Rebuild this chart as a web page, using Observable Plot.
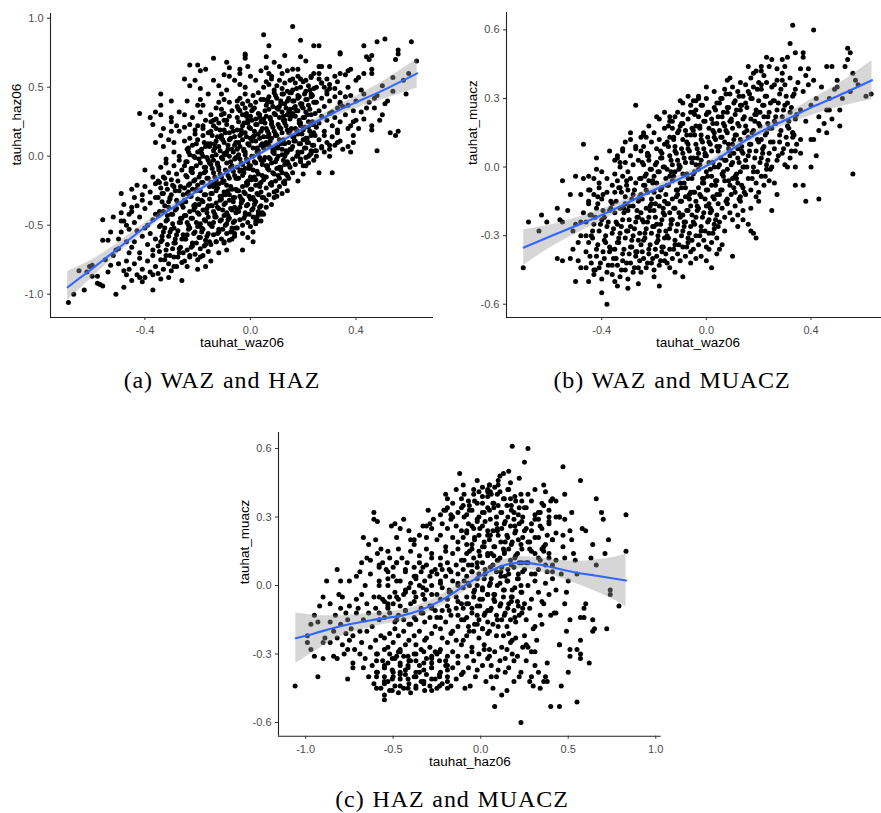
<!DOCTYPE html>
<html><head><meta charset="utf-8">
<script src="https://cdn.jsdelivr.net/npm/d3@7"></script>
<script src="https://cdn.jsdelivr.net/npm/@observablehq/plot@0.6"></script>
<style>
html,body{margin:0;padding:0;background:#fff;overflow:hidden;}
#page{position:relative;width:881px;height:813px;overflow:hidden;background:#fff;}
</style></head><body><div id="page"></div>
<script>
// ---------- Panel (a): tauhat_waz06 (x) vs tauhat_haz06 (y) ----------
const waz_haz_points = [
[-.69,-1.06],[-.67,-1.0],[-.65,-.83],[-.63,-.97],[-.62,-.84],[-.61,-.8],[-.6,-.87],[-.6,-.79],[-.58,-.92],[-.58,-.87],[-.57,-.93],[-.56,-.46],[-.56,-.61],[-.56,-.94],
[-.54,-.84],[-.55,-.75],[-.53,-.79],[-.54,-.61],[-.51,-.68],[-.5,-.67],[-.52,-.44],[-.49,-.27],[-.48,-.35],[-.45,-.37],[-.46,-.42],[-.49,-.47],[-.48,-.47],[-.48,-.83],[-.47,-.86],[-.46,-.82],[-.47,-.76],[-.51,-1.0],[-.48,-.95],[-.47,-.5],[-.53,-.55],[-.52,-.72],[-.5,-.6],[-.49,-.55],[-.47,-.62],[-.46,-.7],[-.46,-.53],[-.5,-.78],[-.49,-.41],
[-.43,-.21],[-.44,-.3],[-.4,-.1],[-.37,-.15],[-.36,-.2],[-.42,.31],[-.38,.28],[-.37,.23],[-.36,.32],[-.36,.1],[-.37,-.97],[-.41,-.91],[-.42,-.88],[-.37,-.86],
[-.45,-.90],[-.40,-.88],[-.43,-.86],[-.38,-.84],[-.41,-.82],[-.36,-.80],[-.44,-.78],[-.39,-.76],[-.42,-.74],[-.37,-.72],
[-.42,-.70],[-.37,-.68],[-.45,-.66],[-.39,-.64],[-.44,-.62],[-.36,-.60],[-.41,-.58],[-.38,-.56],[-.43,-.54],[-.40,-.52],
[-.39,-.50],[-.44,-.48],[-.37,-.46],[-.42,-.44],[-.36,-.42],[-.45,-.40],[-.40,-.38],[-.43,-.36],[-.38,-.34],[-.41,-.32],
[-.36,-.30],[-.41,-.28],[-.38,-.26],[-.45,-.24],[-.40,-.22],
[-.34,.45],[-.3,.4],[-.34,.37],[-.34,.3],[-.3,.28],[-.3,.25],[-.28,.22],[-.3,.18],[-.34,.15],[-.33,.07],[-.34,-.89],[-.31,-.88],[-.29,-.8],[-.33,.2],[-.31,.12],[-.27,.32],[-.27,.18],[-.29,.1],[-.26,-.9],
[-.35,-.85],[-.30,-.83],[-.33,-.82],[-.28,-.80],[-.31,-.78],[-.26,-.77],[-.34,-.75],[-.29,-.73],[-.32,-.72],[-.27,-.70],
[-.32,-.68],[-.27,-.67],[-.35,-.65],[-.29,-.63],[-.34,-.62],[-.26,-.60],[-.31,-.58],[-.28,-.57],[-.33,-.55],[-.30,-.53],
[-.29,-.52],[-.34,-.50],[-.27,-.48],[-.32,-.47],[-.26,-.45],[-.35,-.43],[-.30,-.42],[-.33,-.40],[-.28,-.38],[-.31,-.37],
[-.26,-.35],[-.31,-.33],[-.28,-.32],[-.35,-.30],[-.30,-.28],[-.33,-.27],[-.27,-.25],[-.34,-.23],[-.29,-.22],[-.32,-.20],
[-.35,-.18],[-.30,-.17],[-.33,-.15],[-.28,-.13],[-.31,-.12],[-.26,-.10],[-.34,-.08],[-.29,-.07],[-.32,-.05],[-.27,-.03],
[-.32,-.02],[-.27,.00],[-.29,.03],
[-.25,.56],[-.23,.66],[-.2,.66],[-.19,.62],[-.17,.63],[-.23,.51],[-.19,.49],[-.19,.41],[-.2,.37],[-.18,.37],[-.23,.23],[-.18,.22],[-.23,-.72],[-.19,-.73],[-.2,-.82],[-.17,-.8],[-.25,.3],[-.24,.4],[-.22,.28],[-.21,.55],[-.19,.32],[-.17,.26],[-.16,.45],[-.24,-.8],
[-.25,-.76],[-.20,-.75],[-.23,-.73],[-.18,-.72],[-.21,-.71],[-.16,-.69],[-.24,-.68],[-.19,-.67],[-.22,-.65],[-.17,-.64],
[-.22,-.63],[-.17,-.61],[-.25,-.60],[-.19,-.59],[-.24,-.57],[-.16,-.56],[-.21,-.55],[-.18,-.53],[-.23,-.52],[-.20,-.51],
[-.19,-.49],[-.24,-.48],[-.17,-.47],[-.22,-.45],[-.16,-.44],[-.25,-.43],[-.20,-.41],[-.23,-.40],[-.18,-.39],[-.21,-.37],
[-.16,-.36],[-.21,-.35],[-.18,-.33],[-.25,-.32],[-.20,-.31],[-.23,-.29],[-.17,-.28],[-.24,-.27],[-.19,-.25],[-.22,-.24],
[-.25,-.23],[-.20,-.21],[-.23,-.20],[-.18,-.19],[-.21,-.17],[-.16,-.16],[-.24,-.15],[-.19,-.13],[-.22,-.12],[-.17,-.11],
[-.22,-.09],[-.17,-.08],[-.25,-.07],[-.19,-.05],[-.24,-.04],[-.16,-.03],[-.21,-.01],[-.18,.00],[-.23,.01],[-.20,.03],
[-.19,.04],[-.24,.05],[-.17,.07],[-.22,.08],[-.16,.09],[-.25,.11],[-.20,.12],[-.23,.13],[-.18,.15],[-.21,.16],
[-.16,.17],[-.21,.19],[-.18,.20],[-.25,.21],[-.20,.22],
[-.14,.71],[-.09,.68],[-.1,.59],[-.08,.58],[-.14,.55],[-.12,.51],[-.11,.45],[-.12,.39],[-.1,.41],[-.08,.39],[-.05,.4],[-.15,.3],[-.1,.31],[-.14,.26],[-.09,.26],[-.15,-.76],[-.13,-.62],[-.1,-.62],[-.07,-.6],[-.06,-.56],[-.08,.64],[-.06,.55],[-.13,.35],[-.11,.34],[-.09,.48],[-.07,.33],[-.12,-.7],[-.09,-.68],
[-.15,-.64],[-.10,-.63],[-.13,-.62],[-.08,-.61],[-.11,-.60],[-.06,-.58],[-.14,-.57],[-.09,-.56],[-.12,-.55],[-.07,-.54],
[-.12,-.53],[-.07,-.52],[-.15,-.50],[-.09,-.49],[-.14,-.48],[-.06,-.47],[-.11,-.46],[-.08,-.45],[-.13,-.44],[-.10,-.43],
[-.09,-.41],[-.14,-.40],[-.07,-.39],[-.12,-.38],[-.06,-.37],[-.15,-.36],[-.10,-.35],[-.13,-.34],[-.08,-.32],[-.11,-.31],
[-.06,-.30],[-.11,-.29],[-.08,-.28],[-.15,-.27],[-.10,-.26],[-.13,-.25],[-.07,-.24],[-.14,-.22],[-.09,-.21],[-.12,-.20],
[-.15,-.19],[-.10,-.18],[-.13,-.17],[-.08,-.16],[-.11,-.15],[-.06,-.14],[-.14,-.12],[-.09,-.11],[-.12,-.10],[-.07,-.09],
[-.12,-.08],[-.07,-.07],[-.15,-.06],[-.09,-.05],[-.14,-.03],[-.06,-.02],[-.11,-.01],[-.08,.00],[-.13,.01],[-.10,.02],
[-.09,.03],[-.14,.04],[-.07,.05],[-.12,.07],[-.06,.08],[-.15,.09],[-.10,.10],[-.13,.11],[-.08,.12],[-.11,.13],
[-.06,.14],[-.11,.15],[-.08,.17],[-.15,.18],[-.10,.19],[-.13,.20],[-.07,.21],[-.14,.22],[-.09,.23],[-.12,.24],
[-.15,.25],[-.10,.26],[-.13,.27],[-.08,.29],[-.11,.30],
[-.04,.6],[-.04,.63],[-.02,.73],[-.02,.74],[-.02,.71],[-.01,.65],[-.03,-.68],[-.03,-.56],[-.01,-.59],[.01,-.55],[.02,-.47],[-.04,.52],[-.02,.5],[.0,.58],[.02,.55],[.04,.62],[.01,-.62],[.03,-.47],[.04,-.42],
[-.05,-.52],[.00,-.51],[-.03,-.50],[.02,-.49],[-.01,-.48],[.04,-.47],[-.04,-.46],[.01,-.44],[-.02,-.43],[.03,-.42],
[-.02,-.41],[.03,-.40],[-.05,-.39],[.01,-.38],[-.04,-.37],[.04,-.36],[-.01,-.35],[.02,-.33],[-.03,-.32],[.00,-.31],
[.01,-.30],[-.04,-.29],[.03,-.28],[-.02,-.27],[.04,-.26],[-.05,-.25],[.00,-.24],[-.03,-.22],[.02,-.21],[-.01,-.20],
[.04,-.19],[-.01,-.18],[.02,-.17],[-.05,-.16],[.00,-.15],[-.03,-.14],[.03,-.13],[-.04,-.11],[.01,-.10],[-.02,-.09],
[-.05,-.08],[.00,-.07],[-.03,-.06],[.02,-.05],[-.01,-.04],[.04,-.03],[-.04,-.02],[.01,.00],[-.02,.01],[.03,.02],
[-.02,.03],[.03,.04],[-.05,.05],[.01,.06],[-.04,.07],[.04,.08],[-.01,.09],[.02,.11],[-.03,.12],[.00,.13],
[.01,.14],[-.04,.15],[.03,.16],[-.02,.17],[.04,.18],[-.05,.19],[.00,.20],[-.03,.22],[.02,.23],[-.01,.24],
[.04,.25],[-.01,.26],[.02,.27],[-.05,.28],[.00,.29],[-.03,.30],[.03,.31],[-.04,.33],[.01,.34],[-.02,.35],
[-.05,.36],[.00,.37],[-.03,.38],[.02,.39],[-.01,.40],[.04,.41],[-.04,.42],[.01,.44],[-.02,.45],[.03,.46],
[.05,.88],[.06,.72],[.06,.64],[.07,.8],[.07,.6],[.08,.58],[.11,.65],[.13,.73],[.15,.55],[.13,.0],[.09,-.3],[.05,-.42],[.06,-.37],[.06,-.32],[.08,-.35],[.1,-.25],[.12,.6],[.14,.62],[.09,.68],
[.05,-.30],[.10,-.29],[.07,-.28],[.12,-.27],[.09,-.26],[.14,-.25],[.06,-.23],[.11,-.22],[.08,-.21],[.13,-.20],
[.08,-.19],[.13,-.18],[.05,-.17],[.11,-.16],[.06,-.15],[.14,-.14],[.09,-.13],[.12,-.12],[.07,-.10],[.10,-.09],
[.11,-.08],[.06,-.07],[.13,-.06],[.08,-.05],[.14,-.04],[.05,-.03],[.10,-.02],[.07,-.01],[.12,.01],[.09,.02],
[.14,.03],[.09,.04],[.12,.05],[.05,.06],[.10,.07],[.07,.08],[.13,.09],[.06,.10],[.11,.12],[.08,.13],
[.05,.14],[.10,.15],[.07,.16],[.12,.17],[.09,.18],[.14,.19],[.06,.20],[.11,.21],[.08,.23],[.13,.24],
[.08,.25],[.13,.26],[.05,.27],[.11,.28],[.06,.29],[.14,.30],[.09,.31],[.12,.32],[.07,.34],[.10,.35],
[.11,.36],[.06,.37],[.13,.38],[.08,.39],[.14,.40],[.05,.41],[.10,.42],[.07,.43],[.12,.45],[.09,.46],
[.14,.47],[.09,.48],[.12,.49],[.05,.50],[.10,.51],[.07,.52],[.13,.53],[.06,.54],[.11,.55],[.08,.56],
[.16,.94],[.19,.84],[.24,.8],[.19,.72],[.21,.69],[.16,.63],[.18,.63],[.19,.56],[.23,.58],[.19,-.02],[.22,.0],[.18,-.18],[.21,-.07],[.25,.0],[.16,-.12],[.2,-.13],
[.15,-.08],[.20,-.07],[.17,-.06],[.22,-.05],[.19,-.04],[.24,-.03],[.16,-.02],[.21,-.01],[.18,.01],[.23,.02],
[.18,.03],[.23,.04],[.15,.05],[.21,.06],[.16,.07],[.24,.08],[.19,.09],[.22,.10],[.17,.11],[.20,.12],
[.21,.13],[.16,.14],[.23,.15],[.18,.16],[.24,.17],[.15,.18],[.20,.19],[.17,.20],[.22,.21],[.19,.22],
[.24,.23],[.19,.24],[.22,.25],[.15,.27],[.20,.28],[.17,.29],[.23,.30],[.16,.31],[.21,.32],[.18,.33],
[.15,.34],[.20,.35],[.17,.36],[.22,.37],[.19,.38],[.24,.39],[.16,.40],[.21,.41],[.18,.42],[.23,.43],
[.18,.44],[.23,.45],[.15,.46],[.21,.47],[.16,.48],[.24,.49],[.19,.50],[.22,.51],[.17,.53],[.20,.54],
[.21,.55],[.16,.56],[.23,.57],[.18,.58],[.24,.60],
[.26,.8],[.26,.65],[.27,.65],[.3,.65],[.34,.75],[.34,.74],[.34,.6],[.28,.5],[.27,.53],[.3,.49],[.34,.39],[.26,-.12],[.31,-.12],[.33,.1],[.3,.08],[.28,.03],[.3,.0],[.27,.06],[.35,.05],[.26,.6],[.29,.56],[.32,.58],
[.25,.04],[.30,.05],[.27,.07],[.32,.08],[.29,.10],[.34,.11],[.26,.12],[.31,.14],[.28,.15],[.33,.17],
[.28,.18],[.33,.19],[.25,.21],[.31,.22],[.26,.24],[.34,.25],[.29,.26],[.32,.28],[.27,.29],[.30,.31],
[.31,.32],[.26,.33],[.33,.35],[.28,.36],[.34,.38],[.25,.39],[.30,.40],[.27,.42],[.32,.43],[.29,.45],
[.34,.46],[.29,.47],[.32,.49],[.25,.50],[.30,.52],[.27,.53],[.33,.54],[.26,.56],
[.38,.63],[.37,.62],[.36,.59],[.41,.57],[.4,.55],[.43,.6],[.44,.72],[.43,.8],[.45,.7],[.43,.45],[.45,.39],[.35,.36],[.37,.37],[.38,.44],[.42,.32],[.4,.26],[.39,.25],[.43,.27],[.38,.22],[.39,.15],[.39,.1],[.38,.03],[.37,.07],[.37,.2],[.36,.3],[.37,.5],[.4,.4],[.42,.48],[.39,.33],[.44,.35],[.41,.2],[.36,.43],
[.46,.22],[.46,.19],[.46,.63],[.46,.6],[.48,.83],[.51,.85],[.48,.44],[.47,.42],[.5,.51],[.54,.47],[.54,.57],[.51,.38],[.5,.3],[.49,.26],[.53,.17],[.55,.15],[.56,.18],[.48,.04],[.56,.77],[.56,.74],[.55,.7],[.61,.83],[.63,.69],[.46,.73],[.47,.35],[.52,.4],[.58,.55],[.6,.6],[.59,.45]
];
const waz_haz_dense = [
[-.325,-.75],[-.275,-.73],[-.305,-.72],[-.255,-.70],[-.345,-.69],[-.295,-.67],[-.265,-.66],[-.315,-.64],[-.285,-.63],[-.335,-.61],
[-.285,-.60],[-.335,-.58],[-.255,-.57],[-.305,-.55],[-.275,-.54],[-.325,-.52],[-.345,-.51],[-.295,-.49],[-.265,-.48],[-.315,-.46],
[-.265,-.45],[-.315,-.43],[-.295,-.42],[-.345,-.40],[-.285,-.39],[-.255,-.37],[-.325,-.36],[-.275,-.34],[-.335,-.33],[-.305,-.31],
[-.305,-.30],[-.255,-.28],[-.335,-.27],[-.285,-.25],[-.315,-.24],[-.265,-.22],[-.295,-.21],[-.345,-.19],[-.275,-.18],[-.325,-.16],
[-.225,-.66],[-.175,-.65],[-.205,-.63],[-.155,-.62],[-.245,-.60],[-.195,-.59],[-.165,-.58],[-.215,-.56],[-.185,-.55],[-.235,-.53],
[-.185,-.52],[-.235,-.50],[-.155,-.49],[-.205,-.48],[-.175,-.46],[-.225,-.45],[-.245,-.43],[-.195,-.42],[-.165,-.41],[-.215,-.39],
[-.165,-.38],[-.215,-.36],[-.195,-.35],[-.245,-.33],[-.185,-.32],[-.155,-.31],[-.225,-.29],[-.175,-.28],[-.235,-.26],[-.205,-.25],
[-.205,-.24],[-.155,-.22],[-.235,-.21],[-.185,-.19],[-.215,-.18],[-.165,-.16],[-.195,-.15],[-.245,-.14],[-.175,-.12],[-.225,-.11],
[-.225,-.09],[-.175,-.08],[-.205,-.07],[-.155,-.05],[-.245,-.04],[-.195,-.02],[-.165,-.01],[-.215,.00],[-.185,.02],[-.235,.03],
[-.185,.05],[-.235,.06],[-.155,.07],[-.205,.09],[-.175,.10],
[-.125,-.56],[-.075,-.55],[-.105,-.53],[-.055,-.52],[-.145,-.51],[-.095,-.50],[-.065,-.48],[-.115,-.47],[-.085,-.46],[-.135,-.44],
[-.085,-.43],[-.135,-.42],[-.055,-.41],[-.105,-.39],[-.075,-.38],[-.125,-.37],[-.145,-.36],[-.095,-.34],[-.065,-.33],[-.115,-.32],
[-.065,-.30],[-.115,-.29],[-.095,-.28],[-.145,-.27],[-.085,-.25],[-.055,-.24],[-.125,-.23],[-.075,-.22],[-.135,-.20],[-.105,-.19],
[-.105,-.18],[-.055,-.16],[-.135,-.15],[-.085,-.14],[-.115,-.13],[-.065,-.11],[-.095,-.10],[-.145,-.09],[-.075,-.08],[-.125,-.06],
[-.125,-.05],[-.075,-.04],[-.105,-.02],[-.055,-.01],[-.145,.00],[-.095,.01],[-.065,.03],[-.115,.04],[-.085,.05],[-.135,.06],
[-.085,.08],[-.135,.09],[-.055,.10],[-.105,.12],[-.075,.13],[-.125,.14],[-.145,.15],[-.095,.17],[-.065,.18],[-.115,.19],
[-.025,-.45],[.025,-.44],[-.005,-.42],[.045,-.41],[-.045,-.40],[.005,-.39],[.035,-.37],[-.015,-.36],[.015,-.35],[-.035,-.34],
[.015,-.32],[-.035,-.31],[.045,-.30],[-.005,-.29],[.025,-.27],[-.025,-.26],[-.045,-.25],[.005,-.24],[.035,-.22],[-.015,-.21],
[.035,-.20],[-.015,-.19],[.005,-.17],[-.045,-.16],[.015,-.15],[.045,-.14],[-.025,-.12],[.025,-.11],[-.035,-.10],[-.005,-.09],
[-.005,-.07],[.045,-.06],[-.035,-.05],[.015,-.04],[-.015,-.02],[.035,-.01],[.005,.00],[-.045,.01],[.025,.03],[-.025,.04],
[-.025,.05],[.025,.06],[-.005,.08],[.045,.09],[-.045,.10],[.005,.11],[.035,.13],[-.015,.14],[.015,.15],[-.035,.16],
[.015,.18],[-.035,.19],[.045,.20],[-.005,.21],[.025,.23],[-.025,.24],[-.045,.25],[.005,.26],[.035,.28],[-.015,.29],
[.035,.30],[-.015,.31],[.005,.33],[-.045,.34],[.015,.35],
[.075,-.20],[.125,-.19],[.095,-.18],[.145,-.16],[.055,-.15],[.105,-.14],[.135,-.13],[.085,-.12],[.115,-.10],[.065,-.09],
[.115,-.08],[.065,-.07],[.145,-.06],[.095,-.04],[.125,-.03],[.075,-.02],[.055,-.01],[.105,.00],[.135,.02],[.085,.03],
[.135,.04],[.085,.05],[.105,.06],[.055,.08],[.115,.09],[.145,.10],[.075,.11],[.125,.12],[.065,.14],[.095,.15],
[.095,.16],[.145,.17],[.065,.18],[.115,.20],[.085,.21],[.135,.22],[.105,.23],[.055,.24],[.125,.26],[.075,.27],
[.075,.28],[.125,.29],[.095,.30],[.145,.32],[.055,.33],[.105,.34],[.135,.35],[.085,.36],[.115,.38],[.065,.39],
[.115,.40],[.065,.41],[.145,.42],[.095,.44],[.125,.45],
[.175,.00],[.225,.01],[.195,.03],[.245,.04],[.155,.05],[.205,.06],[.235,.08],[.185,.09],[.215,.10],[.165,.11],
[.215,.13],[.165,.14],[.245,.15],[.195,.16],[.225,.18],[.175,.19],[.155,.20],[.205,.21],[.235,.23],[.185,.24],
[.235,.25],[.185,.26],[.205,.28],[.155,.29],[.215,.30],[.245,.31],[.175,.33],[.225,.34],[.165,.35],[.195,.36],
[.195,.38],[.245,.39],[.165,.40],[.215,.41],[.185,.43],[.235,.44],[.205,.45],[.155,.46],[.225,.48],[.175,.49]
];
const loessA_x  = [-.693,-.6,-.5,-.4,-.3,-.2,-.1,0,.1,.2,.3,.4,.5,.632];
const loessA_y  = [-.95,-.815,-.665,-.515,-.38,-.25,-.13,-.02,.09,.2,.3,.39,.475,.6];
const loessA_lo = [-1.045,-.88,-.705,-.545,-.405,-.27,-.15,-.04,.07,.178,.27,.345,.41,.495];
const loessA_hi = [-.835,-.75,-.625,-.485,-.355,-.23,-.11,0,.11,.222,.33,.435,.54,.705];

// ---------- Panel (b): tauhat_waz06 (x) vs tauhat_muacz (y) ----------
const waz_muacz_points = [
[-.70,-.44],[-.68,-.24],[-.63,-.21],[-.64,-.28],[-.61,-.24],[-.57,-.18],[-.56,-.23],[-.55,-.24],[-.57,-.40],[-.55,-.41],
[-.55,-.06],[-.53,-.19],[-.52,-.40],[-.50,-.04],[-.52,-.12],[-.48,-.12],[-.50,-.25],[-.48,-.24],[-.50,-.50],[-.45,-.16],[-.48,-.44],[-.46,-.44],[-.47,.10],[-.46,-.30],[-.49,-.33],[-.47,-.20],[-.46,-.37],[-.47,-.05],[-.51,-.28],[-.51,-.36],[-.49,-.41],[-.46,-.24],[-.45,-.10],[-.48,-.30],
[-.43,-.05],[-.42,-.01],[-.43,-.45],[-.36,-.47],[-.38,-.60],[-.37,.07],[-.35,.03],[-.40,-.55],[-.42,.04],
[-.45,-.50],[-.40,-.49],[-.43,-.47],[-.38,-.46],[-.41,-.44],[-.36,-.43],[-.44,-.42],[-.39,-.40],[-.42,-.39],[-.37,-.37],
[-.42,-.36],[-.37,-.35],[-.45,-.33],[-.39,-.32],[-.44,-.30],[-.36,-.29],[-.41,-.28],[-.38,-.26],[-.43,-.25],[-.40,-.23],
[-.39,-.22],[-.44,-.21],[-.37,-.19],[-.42,-.18],[-.36,-.16],[-.45,-.15],[-.40,-.14],[-.43,-.12],[-.38,-.11],[-.41,-.09],
[-.36,-.08],[-.41,-.07],[-.38,-.05],[-.45,-.04],[-.40,-.02],
[-.34,.05],[-.32,.08],[-.33,.02],[-.29,.15],[-.27,.27],[-.34,-.52],[-.30,-.53],[-.26,-.51],[-.31,.11],[-.29,.12],[-.27,.09],[-.25,.13],
[-.35,-.50],[-.30,-.49],[-.33,-.48],[-.28,-.46],[-.31,-.45],[-.26,-.44],[-.34,-.43],[-.29,-.42],[-.32,-.41],[-.27,-.39],
[-.32,-.38],[-.27,-.37],[-.35,-.36],[-.29,-.35],[-.34,-.33],[-.26,-.32],[-.31,-.31],[-.28,-.30],[-.33,-.29],[-.30,-.28],
[-.29,-.26],[-.34,-.25],[-.27,-.24],[-.32,-.23],[-.26,-.22],[-.35,-.20],[-.30,-.19],[-.33,-.18],[-.28,-.17],[-.31,-.16],
[-.26,-.15],[-.31,-.13],[-.28,-.12],[-.35,-.11],[-.30,-.10],[-.33,-.09],[-.27,-.07],[-.34,-.06],[-.29,-.05],[-.32,-.04],
[-.35,-.03],[-.30,-.02],[-.33,.00],[-.28,.01],[-.31,.02],[-.26,.03],[-.34,.04],[-.29,.05],[-.32,.07],[-.27,.08],
[-.24,.15],[-.24,.14],[-.19,.22],[-.18,.21],[-.16,.24],[-.18,-.52],[-.20,-.48],[-.22,.18],[-.16,.17],
[-.25,-.46],[-.20,-.45],[-.23,-.44],[-.18,-.43],[-.21,-.42],[-.16,-.41],[-.24,-.40],[-.19,-.39],[-.22,-.38],[-.17,-.37],
[-.22,-.36],[-.17,-.35],[-.25,-.34],[-.19,-.33],[-.24,-.32],[-.16,-.31],[-.21,-.29],[-.18,-.28],[-.23,-.27],[-.20,-.26],
[-.19,-.25],[-.24,-.24],[-.17,-.23],[-.22,-.22],[-.16,-.21],[-.25,-.20],[-.20,-.19],[-.23,-.18],[-.18,-.17],[-.21,-.16],
[-.16,-.15],[-.21,-.14],[-.18,-.13],[-.25,-.12],[-.20,-.11],[-.23,-.10],[-.17,-.09],[-.24,-.08],[-.19,-.07],[-.22,-.06],
[-.25,-.05],[-.20,-.04],[-.23,-.03],[-.18,-.02],[-.21,-.01],[-.16,.00],[-.24,.01],[-.19,.02],[-.22,.03],[-.17,.04],
[-.22,.05],[-.17,.06],[-.25,.07],[-.19,.08],[-.24,.09],[-.16,.10],[-.21,.11],[-.18,.12],[-.23,.13],[-.20,.15],
[-.14,.22],[-.13,.20],[-.10,.29],[-.09,.28],[-.07,.31],[-.06,.27],[-.11,.24],[-.09,.23],[-.14,-.44],[-.09,-.48],[-.12,-.46],[-.06,-.42],
[-.15,-.42],[-.10,-.41],[-.13,-.40],[-.08,-.39],[-.11,-.38],[-.06,-.37],[-.14,-.36],[-.09,-.35],[-.12,-.34],[-.07,-.33],
[-.12,-.32],[-.07,-.31],[-.15,-.30],[-.09,-.28],[-.14,-.27],[-.06,-.26],[-.11,-.25],[-.08,-.24],[-.13,-.23],[-.10,-.22],
[-.09,-.21],[-.14,-.20],[-.07,-.19],[-.12,-.18],[-.06,-.17],[-.15,-.16],[-.10,-.15],[-.13,-.14],[-.08,-.13],[-.11,-.12],
[-.06,-.11],[-.11,-.10],[-.08,-.09],[-.15,-.08],[-.10,-.07],[-.13,-.06],[-.07,-.05],[-.14,-.04],[-.09,-.03],[-.12,-.02],
[-.15,-.01],[-.10,.00],[-.13,.01],[-.08,.02],[-.11,.03],[-.06,.04],[-.14,.05],[-.09,.06],[-.12,.07],[-.07,.08],
[-.12,.09],[-.07,.10],[-.15,.11],[-.09,.12],[-.14,.13],[-.06,.14],[-.11,.15],[-.08,.16],[-.13,.17],[-.10,.18],
[-.09,.19],[-.14,.20],[-.07,.21],[-.12,.22],[-.06,.24],
[-.05,.24],[-.04,.29],[.00,.35],[.02,-.44],[.00,-.41],[.01,-.36],[-.03,.30],[.03,.33],[-.02,-.39],[.04,-.38],[-.04,-.40],
[-.05,-.36],[.00,-.35],[-.03,-.34],[.02,-.33],[-.01,-.32],[.04,-.31],[-.04,-.30],[.01,-.29],[-.02,-.28],[.03,-.27],
[-.02,-.26],[.03,-.25],[-.05,-.24],[.01,-.23],[-.04,-.22],[.04,-.21],[-.01,-.20],[.02,-.19],[-.03,-.18],[.00,-.17],
[.01,-.16],[-.04,-.15],[.03,-.14],[-.02,-.13],[.04,-.12],[-.05,-.11],[.00,-.10],[-.03,-.09],[.02,-.08],[-.01,-.07],
[.04,-.06],[-.01,-.05],[.02,-.04],[-.05,-.03],[.00,-.02],[-.03,-.01],[.03,.00],[-.04,.01],[.01,.02],[-.02,.03],
[-.05,.04],[.00,.05],[-.03,.06],[.02,.07],[-.01,.08],[.04,.09],[-.04,.10],[.01,.11],[-.02,.12],[.03,.13],
[-.02,.14],[.03,.15],[-.05,.16],[.01,.17],[-.04,.18],[.04,.19],[-.01,.20],[.02,.21],[-.03,.22],[.00,.23],
[.01,.24],[-.04,.25],[.03,.26],[-.02,.27],[.04,.28],[-.05,.29],[.00,.30],[-.03,.31],
[.09,.39],[.05,-.36],[.06,-.34],[.10,-.39],[.14,-.23],[.07,-.28],[.12,-.26],[.08,.38],[.13,.37],
[.05,-.24],[.10,-.23],[.07,-.22],[.12,-.21],[.09,-.20],[.14,-.19],[.06,-.18],[.11,-.17],[.08,-.16],[.13,-.15],
[.08,-.14],[.13,-.13],[.05,-.12],[.11,-.11],[.06,-.10],[.14,-.09],[.09,-.08],[.12,-.07],[.07,-.06],[.10,-.05],
[.11,-.04],[.06,-.03],[.13,-.02],[.08,-.01],[.14,.00],[.05,.01],[.10,.02],[.07,.03],[.12,.04],[.09,.05],
[.14,.06],[.09,.07],[.12,.08],[.05,.09],[.10,.10],[.07,.11],[.13,.12],[.06,.13],[.11,.14],[.08,.15],
[.05,.16],[.10,.17],[.07,.18],[.12,.19],[.09,.20],[.14,.21],[.06,.22],[.11,.23],[.08,.24],[.13,.25],
[.08,.26],[.13,.27],[.05,.28],[.11,.29],[.06,.30],[.14,.31],[.09,.32],[.12,.33],[.07,.34],[.10,.35],
[.16,-.25],[.17,-.28],[.18,-.29],[.19,-.31],[.17,-.18],[.19,-.13],[.20,-.15],[.25,-.19],[.23,.48],[.18,.41],[.21,.44],[.21,.42],[.21,.36],[.23,.37],[.16,.44],[.24,.44],
[.15,-.12],[.20,-.11],[.17,-.10],[.22,-.08],[.19,-.07],[.24,-.06],[.16,-.05],[.21,-.04],[.18,-.02],[.23,-.01],
[.18,.00],[.23,.01],[.15,.03],[.21,.04],[.16,.05],[.24,.06],[.19,.07],[.22,.09],[.17,.10],[.20,.11],
[.21,.12],[.16,.13],[.23,.15],[.18,.16],[.24,.17],[.15,.18],[.20,.19],[.17,.21],[.22,.22],[.19,.23],
[.24,.24],[.19,.25],[.22,.27],[.15,.28],[.20,.29],[.17,.30],[.23,.31],[.16,.33],[.21,.34],[.18,.35],
[.15,.36],[.20,.37],[.17,.39],[.22,.40],[.19,.42],
[.25,.47],[.29,.47],[.31,.48],[.32,.54],[.33,.62],[.34,.50],[.26,.36],[.29,.38],[.35,.37],[.26,-.07],[.27,-.12],[.34,-.08],[.31,.00],[.34,.00],[.33,.15],[.27,.43],[.30,.44],
[.25,.00],[.30,.01],[.27,.03],[.32,.04],[.29,.06],[.34,.07],[.26,.08],[.31,.10],[.28,.11],[.33,.13],
[.28,.14],[.33,.15],[.25,.17],[.31,.18],[.26,.20],[.34,.21],[.29,.22],[.32,.24],[.27,.25],[.30,.27],
[.31,.28],[.26,.29],[.33,.31],[.28,.32],[.34,.34],[.25,.35],[.30,.36],[.27,.38],[.32,.39],[.29,.41],
[.41,.60],[.37,.50],[.37,.48],[.36,.43],[.39,.43],[.38,-.15],[.43,-.14],[.37,-.08],[.40,.00],[.40,.12],[.41,.12],[.43,.16],[.36,.25],[.37,.33],[.38,.20],[.39,.36],[.40,.27],[.42,.30],[.43,.22],[.44,.35],[.36,.12],[.38,.40],[.41,.38],[.42,.05],[.36,.06],[.45,.19],
[.46,.44],[.48,.44],[.53,.44],[.54,.52],[.55,.50],[.54,.47],[.56,.41],[.57,.38],[.50,.38],[.50,.35],[.49,.34],[.61,.31],[.63,.32],[.51,.25],[.47,.25],[.46,.25],[.48,.21],[.51,.18],[.46,.15],[.56,-.03],[.47,.30],[.52,.30],[.55,.33],[.58,.36]
];
const waz_muacz_dense = [
[-.425,-.45],[-.375,-.43],[-.405,-.42],[-.355,-.40],[-.445,-.39],[-.395,-.37],[-.365,-.36],[-.415,-.34],[-.385,-.33],[-.435,-.31],
[-.385,-.30],[-.435,-.28],[-.355,-.27],[-.405,-.25],[-.375,-.24],[-.425,-.22],[-.445,-.21],[-.395,-.19],[-.365,-.18],[-.415,-.16],
[-.365,-.15],[-.415,-.13],[-.395,-.12],[-.445,-.10],
[-.325,-.45],[-.275,-.44],[-.305,-.42],[-.255,-.41],[-.345,-.40],[-.295,-.38],[-.265,-.37],[-.315,-.36],[-.285,-.35],[-.335,-.33],
[-.285,-.32],[-.335,-.31],[-.255,-.29],[-.305,-.28],[-.275,-.27],[-.325,-.26],[-.345,-.24],[-.295,-.23],[-.265,-.22],[-.315,-.20],
[-.265,-.19],[-.315,-.18],[-.295,-.17],[-.345,-.15],[-.285,-.14],[-.255,-.13],[-.325,-.11],[-.275,-.10],[-.335,-.09],[-.305,-.08],
[-.305,-.06],[-.255,-.05],
[-.225,-.42],[-.175,-.41],[-.205,-.40],[-.155,-.38],[-.245,-.37],[-.195,-.36],[-.165,-.35],[-.215,-.34],[-.185,-.32],[-.235,-.31],
[-.185,-.30],[-.235,-.29],[-.155,-.28],[-.205,-.26],[-.175,-.25],[-.225,-.24],[-.245,-.23],[-.195,-.22],[-.165,-.20],[-.215,-.19],
[-.165,-.18],[-.215,-.17],[-.195,-.16],[-.245,-.14],[-.185,-.13],[-.155,-.12],[-.225,-.11],[-.175,-.10],[-.235,-.08],[-.205,-.07],
[-.205,-.06],[-.155,-.05],[-.235,-.04],[-.185,-.02],[-.215,-.01],[-.165,.00],[-.195,.01],[-.245,.02],[-.175,.04],[-.225,.05],
[-.225,.06],[-.175,.07],
[-.125,-.36],[-.075,-.35],[-.105,-.34],[-.055,-.32],[-.145,-.31],[-.095,-.30],[-.065,-.29],[-.115,-.28],[-.085,-.26],[-.135,-.25],
[-.085,-.24],[-.135,-.23],[-.055,-.21],[-.105,-.20],[-.075,-.19],[-.125,-.18],[-.145,-.16],[-.095,-.15],[-.065,-.14],[-.115,-.13],
[-.065,-.12],[-.115,-.10],[-.095,-.09],[-.145,-.08],[-.085,-.07],[-.055,-.05],[-.125,-.04],[-.075,-.03],[-.135,-.02],[-.105,-.01],
[-.105,.01],[-.055,.02],[-.135,.03],[-.085,.04],[-.115,.06],[-.065,.07],[-.095,.08],[-.145,.09],[-.075,.11],[-.125,.12],
[-.125,.13],[-.075,.14],[-.105,.16],[-.055,.17],[-.145,.18],[-.095,.19],
[-.025,-.30],[.025,-.29],[-.005,-.28],[.045,-.26],[-.045,-.25],[.005,-.24],[.035,-.23],[-.015,-.22],[.015,-.20],[-.035,-.19],
[.015,-.18],[-.035,-.17],[.045,-.16],[-.005,-.14],[.025,-.13],[-.025,-.12],[-.045,-.11],[.005,-.10],[.035,-.08],[-.015,-.07],
[.035,-.06],[-.015,-.05],[.005,-.04],[-.045,-.02],[.015,-.01],[.045,.00],[-.025,.01],[.025,.02],[-.035,.04],[-.005,.05],
[-.005,.06],[.045,.07],[-.035,.08],[.015,.10],[-.015,.11],[.035,.12],[.005,.13],[-.045,.14],[.025,.16],[-.025,.17],
[-.025,.18],[.025,.19],[-.005,.20],[.045,.22],[-.045,.23],[.005,.24],[.035,.25],[-.015,.27],
[.075,-.15],[.125,-.14],[.095,-.12],[.145,-.11],[.055,-.10],[.105,-.09],[.135,-.08],[.085,-.06],[.115,-.05],[.065,-.04],
[.115,-.03],[.065,-.02],[.145,.00],[.095,.01],[.125,.02],[.075,.03],[.055,.04],[.105,.06],[.135,.07],[.085,.08],
[.135,.09],[.085,.10],[.105,.12],[.055,.13],[.115,.14],[.145,.15],[.075,.16],[.125,.18],[.065,.19],[.095,.20],
[.095,.21],[.145,.22],[.065,.24],[.115,.25],[.085,.26],[.135,.27],[.105,.28],[.055,.30],[.125,.31],[.075,.32],
[.175,-.05],[.225,-.04],[.195,-.02],[.245,-.01],[.155,.00],[.205,.02],[.235,.03],[.185,.04],[.215,.06],[.165,.07],
[.215,.08],[.165,.10],[.245,.11],[.195,.12],[.225,.14],[.175,.15],[.155,.16],[.205,.18],[.235,.19],[.185,.20],
[.235,.22],[.185,.23],[.205,.24],[.155,.26],[.215,.27],[.245,.28],[.175,.30],[.225,.31],[.165,.32],[.195,.34],
[.275,.05],[.325,.07],[.295,.08],[.345,.10],[.255,.11],[.305,.13],[.335,.14],[.285,.16],[.315,.17],[.265,.19],
[.315,.20],[.265,.22],[.345,.23],[.295,.25],[.325,.26],[.275,.28],[.255,.29],[.305,.31],[.335,.32],[.285,.34]
];
const loessB_x  = [-.698,-.6,-.5,-.4,-.3,-.2,-.1,0,.1,.2,.3,.4,.5,.633];
const loessB_y  = [-.352,-.305,-.258,-.21,-.155,-.1,-.05,.005,.08,.15,.205,.26,.31,.38];
const loessB_lo = [-.43,-.355,-.293,-.235,-.175,-.116,-.065,-.01,.064,.132,.183,.225,.26,.295];
const loessB_hi = [-.274,-.255,-.223,-.185,-.135,-.084,-.035,.02,.096,.168,.227,.295,.36,.465];

// ---------- Panel (c): tauhat_haz06 (x) vs tauhat_muacz (y) ----------
const haz_muacz_points = [
[-1.06,-.44],[-.93,-.40],[-.97,-.17],[-.93,-.16],[-.97,-.28],[-.95,-.31],[-.99,-.22],[-.99,-.25],[-.89,-.23],[-.90,-.25],[-.86,-.25],[-.92,-.09],[-.90,-.05],[-.86,-.08],[-.86,-.16],[-.88,.02],[-.90,-.32],[-.95,-.13],
[-.81,-.04],[-.84,-.31],[-.82,-.32],[-.76,-.41],[-.73,-.34],[-.73,-.36],[-.80,-.10],[-.77,-.12],[-.75,-.09],[-.82,.07],[-.75,.02],[-.71,.04],[-.84,-.20],[-.82,-.23],[-.80,-.17],[-.79,-.26],[-.77,-.21],[-.76,-.15],[-.75,-.24],[-.74,-.19],[-.72,-.28],[-.71,-.12],[-.83,-.13],[-.79,-.05],[-.78,-.30],[-.76,-.28],[-.73,-.22],[-.71,-.06],[-.80,.02],
[-.61,.32],[-.61,.29],[-.59,.28],[-.67,.21],[-.65,.12],[-.68,.10],[-.63,.11],[-.59,.14],[-.58,.08],[-.56,.10],[-.67,-.36],
[-.70,-.10],[-.69,-.20],[-.69,-.30],[-.68,-.04],[-.68,-.25],[-.67,-.15],[-.66,.00],[-.66,-.32],[-.65,-.08],[-.65,-.20],[-.64,-.40],[-.64,-.12],[-.63,.05],[-.63,-.27],[-.62,-.35],[-.62,-.18],[-.61,-.05],[-.61,-.43],[-.60,-.24],[-.60,-.10],[-.59,-.30],[-.59,-.38],[-.58,-.15],[-.58,.02],[-.57,-.45],[-.57,-.22],[-.56,-.33],[-.56,-.06],[-.55,-.40],[-.69,.06],[-.64,.18],[-.60,.20],[-.57,.16],
[-.51,.26],[-.49,.27],[-.44,.29],[-.46,.25],[-.41,.24],[-.48,.21],[-.40,.20],[-.52,.12],[-.54,.07],[-.50,.08],[-.48,.10],[-.55,-.50],[-.53,.15],[-.47,.16],[-.45,.12],[-.42,.10],
[-.55,-.48],[-.47,-.47],[-.52,-.46],[-.44,-.45],[-.49,-.44],[-.41,-.43],[-.53,-.42],[-.46,-.41],[-.50,-.40],[-.43,-.39],
[-.50,-.38],[-.43,-.37],[-.55,-.36],[-.46,-.35],[-.53,-.34],[-.41,-.33],[-.49,-.32],[-.44,-.31],[-.52,-.30],[-.47,-.29],
[-.46,-.28],[-.53,-.27],[-.43,-.26],[-.50,-.25],[-.41,-.24],[-.55,-.23],[-.47,-.22],[-.52,-.21],[-.44,-.20],[-.49,-.19],
[-.41,-.17],[-.49,-.16],[-.44,-.15],[-.55,-.14],[-.47,-.13],[-.52,-.12],[-.43,-.11],[-.53,-.10],[-.46,-.09],[-.50,-.08],
[-.55,-.07],[-.47,-.06],[-.52,-.05],[-.44,-.04],[-.49,-.03],[-.41,-.01],[-.53,.00],[-.46,.02],[-.50,.04],[-.43,.06],
[-.31,.26],[-.29,.27],[-.28,.25],[-.27,.29],[-.31,.21],[-.38,.20],[-.35,.22],[-.33,.26],[-.30,.33],
[-.40,-.47],[-.32,-.46],[-.37,-.45],[-.29,-.44],[-.34,-.42],[-.26,-.41],[-.38,-.40],[-.31,-.39],[-.35,-.38],[-.28,-.36],
[-.35,-.35],[-.28,-.34],[-.40,-.33],[-.31,-.32],[-.38,-.30],[-.26,-.29],[-.34,-.28],[-.29,-.27],[-.37,-.26],[-.32,-.24],
[-.31,-.23],[-.38,-.22],[-.28,-.21],[-.35,-.20],[-.26,-.18],[-.40,-.17],[-.32,-.16],[-.37,-.15],[-.29,-.14],[-.34,-.12],
[-.26,-.11],[-.34,-.10],[-.29,-.09],[-.40,-.08],[-.32,-.06],[-.37,-.05],[-.28,-.04],[-.38,-.03],[-.31,-.02],[-.35,.00],
[-.40,.01],[-.32,.02],[-.37,.03],[-.29,.04],[-.34,.06],[-.26,.07],[-.38,.08],[-.31,.09],[-.35,.10],[-.28,.12],
[-.35,.13],[-.28,.14],[-.40,.15],[-.31,.16],[-.38,.18],
[-.21,.33],[-.17,.31],[-.19,.34],[-.19,.38],[-.12,.49],[-.20,.40],[-.16,.36],[-.14,.42],[-.11,.38],
[-.25,-.45],[-.17,-.44],[-.22,-.43],[-.14,-.41],[-.19,-.40],[-.11,-.39],[-.23,-.38],[-.16,-.36],[-.20,-.35],[-.13,-.34],
[-.20,-.33],[-.13,-.31],[-.25,-.30],[-.16,-.29],[-.23,-.28],[-.11,-.26],[-.19,-.25],[-.14,-.24],[-.22,-.23],[-.17,-.21],
[-.16,-.20],[-.23,-.19],[-.13,-.18],[-.20,-.16],[-.11,-.15],[-.25,-.14],[-.17,-.13],[-.22,-.11],[-.14,-.10],[-.19,-.09],
[-.11,-.08],[-.19,-.06],[-.14,-.05],[-.25,-.04],[-.17,-.03],[-.22,-.01],[-.13,.00],[-.23,.01],[-.16,.02],[-.20,.04],
[-.25,.05],[-.17,.06],[-.22,.07],[-.14,.09],[-.19,.10],[-.11,.11],[-.23,.12],[-.16,.14],[-.20,.15],[-.13,.16],
[-.20,.17],[-.13,.19],[-.25,.20],[-.16,.21],[-.23,.22],[-.11,.24],[-.19,.25],[-.14,.26],[-.22,.27],[-.17,.29],
[-.16,.30],[-.23,.31],[-.13,.32],[-.20,.33],[-.11,.34],
[-.01,.41],[.05,.44],[.04,.42],[-.06,-.44],[.03,-.42],[-.09,-.45],[-.03,-.40],
[-.10,-.38],[-.02,-.37],[-.07,-.36],[.01,-.35],[-.04,-.33],[.04,-.32],[-.08,-.31],[-.01,-.30],[-.05,-.29],[.02,-.28],
[-.05,-.27],[.02,-.26],[-.10,-.24],[-.01,-.23],[-.08,-.22],[.04,-.21],[-.04,-.20],[.01,-.19],[-.07,-.18],[-.02,-.17],
[-.01,-.15],[-.08,-.14],[.02,-.13],[-.05,-.12],[.04,-.11],[-.10,-.10],[-.02,-.09],[-.07,-.08],[.01,-.06],[-.04,-.05],
[.04,-.04],[-.04,-.03],[.01,-.02],[-.10,-.01],[-.02,.00],[-.07,.01],[.02,.03],[-.08,.04],[-.01,.05],[-.05,.06],
[-.10,.07],[-.02,.08],[-.07,.09],[.01,.10],[-.04,.12],[.04,.13],[-.08,.14],[-.01,.15],[-.05,.16],[.02,.17],
[-.05,.18],[.02,.19],[-.10,.21],[-.01,.22],[-.08,.23],[.04,.24],[-.04,.25],[.01,.26],[-.07,.27],[-.02,.28],
[-.01,.30],[-.08,.31],[.02,.32],[-.05,.33],[.04,.34],[-.10,.35],[-.02,.36],[-.07,.37],[.01,.39],[-.04,.40],
[.04,.41],[-.04,.42],[.01,.43],[-.10,.44],[-.02,.46],
[.18,.61],[.25,.54],[.11,.48],[.13,.49],[.16,.50],[.10,.44],[.17,.45],[.22,.47],[.08,-.53],[.12,-.48],[.15,-.46],[.23,-.60],[.23,-.38],[.06,-.40],[.08,-.29],[.10,-.37],[.12,-.27],[.14,-.32],[.16,-.36],[.18,-.30],[.20,-.23],[.22,-.40],[.07,-.45],[.05,-.28],[.09,-.22],[.17,-.25],[.21,-.31],[.11,-.33],[.19,-.42],[.24,-.27],[.05,-.31],[.06,-.35],[.09,-.40],[.13,-.22],[.14,-.38],[.15,-.28],[.16,-.21],[.18,-.24],[.19,-.33],
[.05,-.20],[.10,-.18],[.07,-.17],[.12,-.15],[.09,-.13],[.14,-.12],[.06,-.10],[.11,-.09],[.08,-.07],[.13,-.05],
[.08,-.04],[.13,-.02],[.05,.00],[.11,.01],[.06,.03],[.14,.04],[.09,.06],[.12,.08],[.07,.09],[.10,.11],
[.11,.12],[.06,.14],[.13,.16],[.08,.17],[.14,.19],[.05,.20],[.10,.22],[.07,.24],[.12,.25],[.09,.27],
[.14,.28],[.09,.30],[.12,.32],[.05,.33],[.10,.35],[.07,.36],[.13,.38],[.06,.40],[.11,.41],[.08,.43],
[.05,.44],[.10,.46],
[.15,-.18],[.20,-.16],[.17,-.15],[.22,-.13],[.19,-.11],[.24,-.10],[.16,-.08],[.21,-.07],[.18,-.05],[.23,-.03],
[.18,-.02],[.23,.00],[.15,.02],[.21,.03],[.16,.05],[.24,.06],[.19,.08],[.22,.10],[.17,.11],[.20,.13],
[.21,.14],[.16,.16],[.23,.18],[.18,.19],[.24,.21],[.15,.22],[.20,.24],[.17,.26],[.22,.27],[.19,.29],
[.24,.30],[.19,.32],[.22,.34],[.15,.35],[.20,.37],[.17,.38],[.23,.40],[.16,.42],
[.27,.60],[.36,.44],[.43,.37],[.40,.37],[.45,.30],[.25,-.22],[.26,-.26],[.27,-.27],[.29,-.29],[.31,-.29],[.30,-.19],[.31,-.18],[.34,-.13],[.35,-.17],[.42,-.12],[.43,-.12],[.40,-.13],[.34,-.45],[.36,-.42],[.37,-.40],[.38,-.42],[.29,-.40],[.28,-.42],[.38,-.34],[.31,-.35],[.40,-.53],[.45,-.53],[.45,-.26],[.26,-.15],[.28,-.10],[.32,-.24],[.36,-.08],[.33,-.38],[.26,-.33],[.30,-.44],
[.25,-.08],[.35,-.07],[.29,-.06],[.39,-.04],[.33,-.03],[.43,-.02],[.27,.00],[.37,.01],[.31,.02],[.41,.03],
[.31,.05],[.41,.06],[.25,.07],[.37,.09],[.27,.10],[.43,.11],[.33,.12],[.39,.14],[.29,.15],[.35,.16],
[.37,.18],[.27,.19],[.41,.20],[.31,.21],[.43,.23],[.25,.24],[.35,.25],[.29,.27],[.39,.28],[.33,.29],
[.43,.30],[.33,.32],[.39,.33],[.25,.34],[.35,.36],[.29,.37],[.41,.38],[.27,.40],[.37,.41],[.31,.42],
[.47,.52],[.57,.46],[.66,.38],[.69,.32],[.70,.29],[.83,.31],[.52,.32],[.58,.25],[.60,.24],[.73,.20],[.64,.18],[.71,.14],[.63,.12],[.83,.15],[.53,.14],[.54,.11],[.48,.12],[.66,.09],[.48,.29],[.51,.24],[.47,.22],[.45,.30],[.55,-.51],[.50,-.38],[.62,-.34],[.57,-.32],[.57,-.30],[.55,-.28],[.51,-.31],[.51,-.28],[.57,-.24],[.45,-.26],[.64,-.20],[.65,-.19],[.72,-.19],[.64,-.15],[.51,-.15],[.57,-.14],[.59,-.14],[.59,-.10],[.60,-.08],[.48,-.08],[.79,-.09],[.74,-.02],[.74,-.04],[.46,.05],[.50,.02],[.52,.20],[.47,.17],[.49,-.03],[.55,.05],[.48,.40],[.46,-.44],[.49,-.20]
];
const haz_muacz_dense = [
[-.065,-.20],[.01,-.19],[-.035,-.17],[.04,-.16],[-.095,-.15],[-.02,-.13],[.025,-.12],[-.05,-.10],[-.005,-.09],[-.08,-.08],
[-.005,-.06],[-.08,-.05],[.04,-.04],[-.035,-.02],[.01,-.01],[-.065,.00],[-.095,.02],[-.02,.03],[.025,.05],[-.05,.06],
[.025,.07],[-.05,.09],[-.02,.10],[-.095,.11],[-.005,.13],[.04,.14],[-.065,.15],[.01,.17],[-.08,.18],[-.035,.20],
[-.035,.21],[.04,.22],[-.08,.24],[-.005,.25],[-.05,.26],[.025,.28],[-.02,.29],[-.095,.30],[.01,.32],[-.065,.33],
[-.065,.35],[.01,.36],[-.035,.37],[.04,.39],[-.095,.40],
[.095,-.15],[.195,-.14],[.135,-.13],[.235,-.12],[.055,-.11],[.155,-.10],[.215,-.09],[.115,-.08],[.175,-.07],[.075,-.06],
[.175,-.05],[.075,-.04],[.235,-.03],[.135,-.02],[.195,-.01],[.095,.00],[.055,.01],[.155,.02],[.215,.03],[.115,.04],
[.215,.05],[.115,.06],[.155,.07],[.055,.08],[.175,.09],[.235,.10],[.095,.11],[.195,.12],[.075,.13],[.135,.14],
[.135,.15],[.235,.16],[.075,.17],[.175,.18],[.115,.19],[.215,.20],[.155,.21],[.055,.22],[.195,.23],[.095,.24],
[.095,.25],[.195,.26],[.135,.27],[.235,.28],[.055,.29],[.155,.30],[.215,.31],[.115,.32],[.175,.33],[.075,.34],
[.175,.35],[.075,.36],[.235,.37],[.135,.38],[.195,.39],[.095,.40],[.055,.41],[.155,.42],
[.29,.05],[.38,.06],[.33,.07],[.41,.09],[.26,.10],[.34,.11],[.39,.12],[.31,.14],[.36,.15],[.28,.16],
[.36,.17],[.28,.19],[.41,.20],[.33,.21],[.38,.22],[.29,.24],[.26,.25],[.34,.26],[.39,.27],[.31,.29],
[.39,.30],[.31,.31],[.34,.32],[.26,.34],[.36,.35],
[-.505,-.46],[-.28,-.46],[-.415,-.45],[-.19,-.45],[-.595,-.45],[-.37,-.44],[-.235,-.44],[-.46,-.44],[-.325,-.43],[-.55,-.43],
[-.325,-.42],[-.55,-.42],[-.19,-.42],[-.415,-.41],[-.28,-.41],[-.505,-.41],[-.595,-.40],[-.37,-.40],[-.235,-.40],[-.46,-.39],
[-.235,-.39],[-.46,-.38],[-.37,-.38],[-.595,-.38],[-.325,-.37],[-.19,-.37],[-.505,-.37],[-.28,-.36],[-.55,-.36],[-.415,-.36],
[-.415,-.35],[-.19,-.35],[-.55,-.35],[-.325,-.34],[-.46,-.34],[-.235,-.33],[-.37,-.33],[-.595,-.33],[-.28,-.32],[-.505,-.32],
[-.48,-.31],[-.28,-.31],[-.415,-.31],[-.19,-.31],[-.595,-.30],[-.37,-.30],[-.235,-.29],[-.46,-.29],[-.325,-.29],[-.55,-.28],
[-.48,-.15],[-.23,-.14],[-.38,-.14],[-.13,-.13],[-.58,-.12],[-.33,-.12],[-.18,-.11],[-.43,-.11],[-.28,-.10],[-.53,-.09],
[-.28,-.09],[-.53,-.08],[-.13,-.07],[-.38,-.07],[-.23,-.06],[-.48,-.05],[-.58,-.05],[-.33,-.04],[-.18,-.03],[-.43,-.03],
[-.18,-.02],[-.43,-.02],[-.33,-.01],[-.58,.00],[-.28,.00],[-.13,.01],[-.48,.02],[-.23,.02],[-.53,.03],[-.38,.04],
[-.37,.04],[-.13,.05],[-.53,.06],[-.28,.06],[-.43,.07],[-.18,.07],[-.33,.08],[-.58,.09],[-.23,.09],[-.48,.10]
];
const loessC_x  = [-1.056,-.95,-.85,-.75,-.65,-.55,-.45,-.35,-.25,-.15,-.05,.05,.15,.25,.35,.45,.55,.65,.75,.83];
const loessC_y  = [-.231,-.21,-.188,-.17,-.156,-.143,-.132,-.11,-.075,-.03,.02,.062,.092,.099,.09,.072,.056,.044,.032,.022];
const loessC_lo = [-.341,-.29,-.243,-.21,-.188,-.17,-.157,-.134,-.099,-.054,-.004,.038,.067,.072,.06,.034,.006,-.024,-.058,-.093];
const loessC_hi = [-.121,-.13,-.133,-.13,-.124,-.116,-.107,-.086,-.051,-.006,.044,.086,.117,.126,.12,.11,.106,.112,.122,.137];

// ---------- Ticks, titles, captions ----------
const wazTicks = [-0.4, 0, 0.4];
const wazTickLabels = ["-0.4", "0.0", "0.4"];
const hazTicks = [-1, -0.5, 0, 0.5, 1];
const hazTickLabels = ["-1.0", "-0.5", "0.0", "0.5", "1.0"];
const muaczTicks = [-0.6, -0.3, 0, 0.3, 0.6];
const muaczTickLabels = ["-0.6", "-0.3", "0.0", "0.3", "0.6"];
const captions = ["(a) WAZ and HAZ", "(b) WAZ and MUACZ", "(c) HAZ and MUACZ"];

const page = document.getElementById("page");
const FONT = "'Liberation Sans', Arial, Helvetica, sans-serif";

function panel(cfg) {
  const {pts, lx, ly, llo, lhi, xDomain, yDomain, xTicks, xLabels, yTicks, yLabels, xTitle, yTitle, L, R, T, B} = cfg;
  const mL = 48, mR = 8, mT = 8, mB = 44;
  const smooth = lx.map((x, i) => ({x, y: ly[i], lo: llo[i], hi: lhi[i]}));
  const xf = new Map(xTicks.map((t, i) => [t, xLabels[i]]));
  const yf = new Map(yTicks.map((t, i) => [t, yLabels[i]]));
  const svg = Plot.plot({
    width: mL + (R - L) + mR, height: mT + (B - T) + mB,
    marginLeft: mL, marginRight: mR, marginTop: mT, marginBottom: mB,
    style: {fontFamily: FONT, background: "transparent", overflow: "visible"},
    x: {domain: xDomain, label: null},
    y: {domain: yDomain, label: null},
    marks: [
      Plot.dot(pts, {x: d => d[0], y: d => d[1], r: 2.5, fill: "#000"}),
      Plot.areaY(smooth, {x: "x", y1: "lo", y2: "hi", fill: "#999999", fillOpacity: 0.4, curve: "natural"}),
      Plot.line(smooth, {x: "x", y: "y", stroke: "#3366FF", strokeWidth: 2.1, curve: "natural"}),
      Plot.ruleX([xDomain[0]], {stroke: "#222", strokeWidth: 1.1}),
      Plot.ruleY([yDomain[0]], {stroke: "#222", strokeWidth: 1.1}),
      Plot.axisX(xTicks, {tickFormat: d => xf.get(d), tickSize: 3, tickPadding: 6, fontSize: 11, fill: "#4D4D4D", stroke: "#333", label: null}),
      Plot.axisY(yTicks, {tickFormat: d => yf.get(d), tickSize: 3, tickPadding: 4, fontSize: 11, fill: "#4D4D4D", stroke: "#333", label: null}),
      Plot.text([xTitle], {frameAnchor: "bottom", dy: 29.5, fontSize: 13.5, fill: "#000"}),
      Plot.text([yTitle], {frameAnchor: "left", dx: -34, rotate: -90, fontSize: 13.5, fill: "#000"})
    ]
  });
  svg.style.position = "absolute";
  svg.style.left = (L - mL) + "px";
  svg.style.top = (T - mT) + "px";
  page.appendChild(svg);
}

panel({pts: waz_haz_points.concat(waz_haz_dense), lx: loessA_x, ly: loessA_y, llo: loessA_lo, lhi: loessA_hi,
  xDomain: [-0.758, 0.694], yDomain: [-1.169, 1.034],
  xTicks: wazTicks, xLabels: wazTickLabels, yTicks: hazTicks, yLabels: hazTickLabels,
  xTitle: "tauhat_waz06", yTitle: "tauhat_haz06", L: 50, R: 433, T: 13, B: 317});

panel({pts: waz_muacz_points.concat(waz_muacz_dense), lx: loessB_x, ly: loessB_y, llo: loessB_lo, lhi: loessB_hi,
  xDomain: [-0.764, 0.70], yDomain: [-0.658, 0.676],
  xTicks: wazTicks, xLabels: wazTickLabels, yTicks: muaczTicks, yLabels: muaczTickLabels,
  xTitle: "tauhat_waz06", yTitle: "tauhat_muacz", L: 506, R: 889, T: 12.3, B: 317.3});

panel({pts: haz_muacz_points.concat(haz_muacz_dense), lx: loessC_x, ly: loessC_y, llo: loessC_lo, lhi: loessC_hi,
  xDomain: [-1.155, 1.031], yDomain: [-0.66, 0.67],
  xTicks: hazTicks, xLabels: hazTickLabels, yTicks: muaczTicks, yLabels: muaczTickLabels,
  xTitle: "tauhat_haz06", yTitle: "tauhat_muacz", L: 278.3, R: 661, T: 432, B: 735.7});

// captions (layout positions)
const capPos = [[222, 388], [672, 388], [452, 807]];
const cap = d3.select(page).append("svg")
  .attr("width", 881).attr("height", 813)
  .style("position", "absolute").style("left", "0px").style("top", "0px");
cap.selectAll("text").data(captions).join("text")
  .attr("x", (d, i) => capPos[i][0]).attr("y", (d, i) => capPos[i][1])
  .attr("text-anchor", "middle")
  .attr("font-family", "'Liberation Serif', 'Times New Roman', serif")
  .attr("font-size", 24).attr("letter-spacing", "0.9px").attr("word-spacing", "1px")
  .attr("fill", "#000")
  .text(d => d);
</script></body></html>
